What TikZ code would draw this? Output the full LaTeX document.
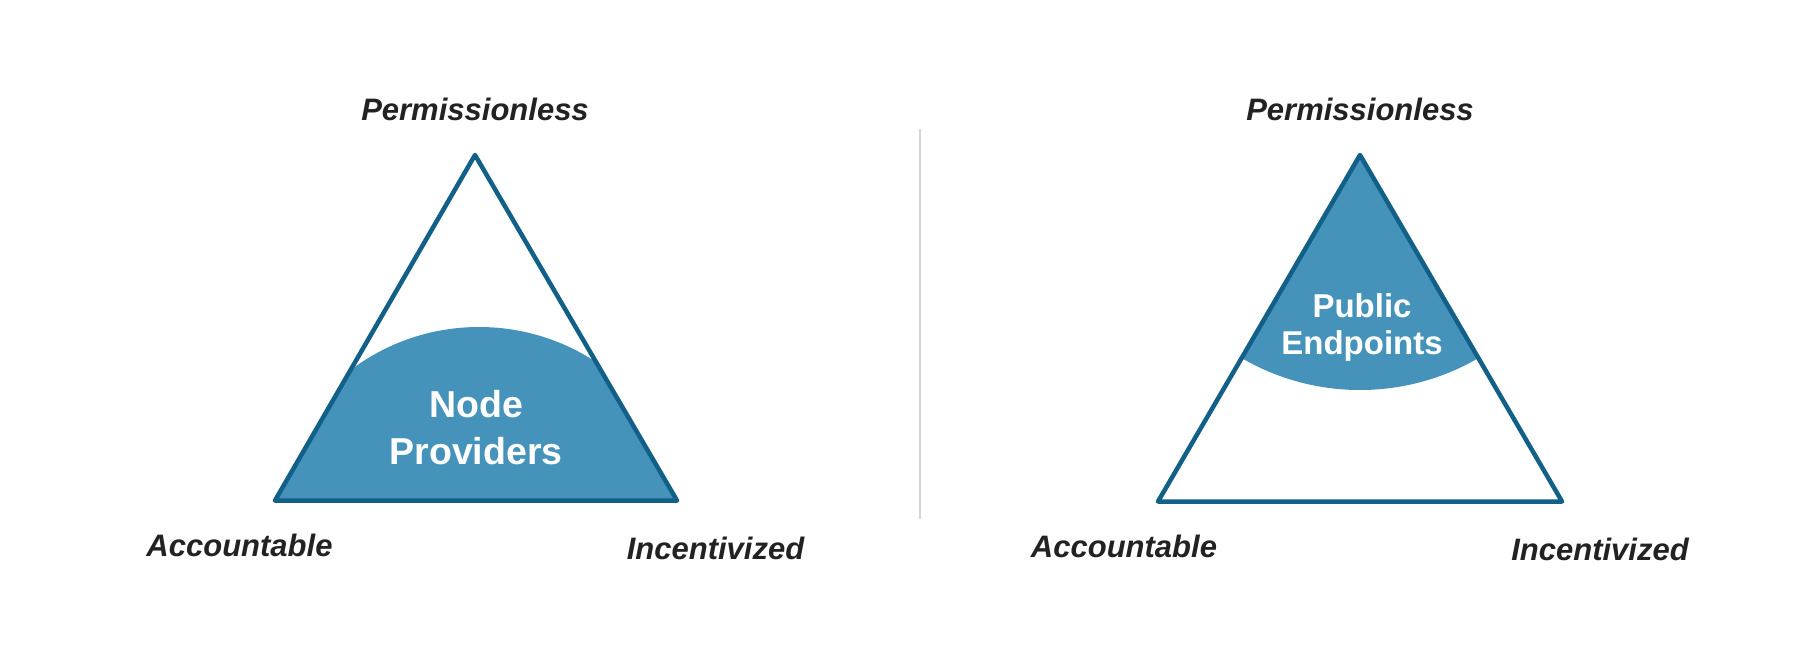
\documentclass[tikz,border=0pt]{standalone}
\usepackage{fontspec}
\setmainfont{Liberation Sans}
\usepackage{tikz}
\usetikzlibrary{positioning}

\definecolor{edgeblue}{HTML}{125F88}
\definecolor{fillblue}{HTML}{4593BB}
\definecolor{labelgray}{HTML}{222222}
\definecolor{divgray}{HTML}{D4D4D4}

\begin{document}
\begin{tikzpicture}[x=1pt, y=-1pt,
			corner/.style={inner sep=0, outer sep=0, text=labelgray, font=\fontsize{31}{37}\selectfont\bfseries\itshape},
			inside/.style={inner sep=0, align=center, text=white},
			outline/.style={draw=edgeblue, line width=4.5pt, line join=round},
			divider/.style={draw=divgray, line width=1.2pt}]

			\useasboundingbox (0,0) rectangle (1817,655);

			% left triangle
			\coordinate (topL) at (475,155);
			\coordinate (blL) at (275,500.5);
			\coordinate (brL) at (677,500.5);
			\begin{scope}
				\clip (topL) -- (blL) -- (brL) -- cycle;
				\fill[fillblue] (479,540) circle (213pt);
			\end{scope}
			\draw[outline] (topL) -- (blL) -- (brL) -- cycle;

			\node[inside, font=\fontsize{37.5}{47}\selectfont\bfseries] (provL) at (476,427.5) {Node\\Providers};

			\node[corner, above=34pt of topL] (permL) {Permissionless};
			\node[corner, below=34pt of blL, xshift=-35.5pt] (accL) {Accountable};
			\node[corner, below=37pt of brL, xshift=38.5pt] (incL) {Incentivized};

			% divider
			\coordinate (divtop) at (920,129);
			\coordinate (divbot) at (920,519);
			\draw[divider] (divtop) -- (divbot);

			% right triangle
			\coordinate (topR) at (1360,155);
			\coordinate (blR) at (1158,501.5);
			\coordinate (brR) at (1562,501.5);
			\begin{scope}
				\clip (topR) -- (blR) -- (brR) -- cycle;
				\fill[fillblue] (topR) circle (235pt);
			\end{scope}
			\draw[outline] (topR) -- (blR) -- (brR) -- cycle;

			\node[inside, font=\fontsize{33}{37}\selectfont\bfseries] (pubR) at (1362,327) {Public\\Endpoints};

			\node[corner, above=34pt of topR] (permR) {Permissionless};
			\node[corner, below=34pt of blR, xshift=-34pt] (accR) {Accountable};
			\node[corner, below=37pt of brR, xshift=38pt] (incR) {Incentivized};
		\end{tikzpicture}
\end{document}
